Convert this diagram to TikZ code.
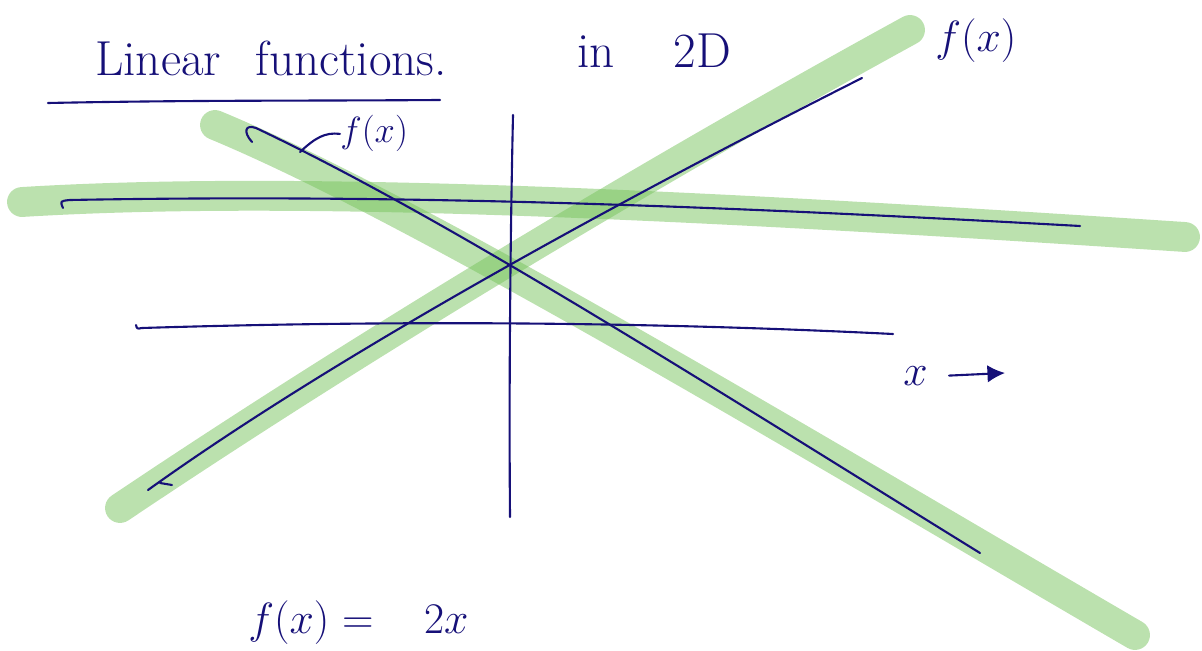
\documentclass[tikz,border=0pt]{standalone}
\usetikzlibrary{arrows.meta}
\definecolor{ink}{RGB}{22,16,120}
\definecolor{marker}{RGB}{119,195,93}

\begin{document}
\begin{tikzpicture}[
  x=0.02cm, y=-0.02cm,
  hl/.style={draw=marker, opacity=0.5, line width=17pt, line cap=round},
  pen/.style={draw=ink, line width=1.2pt, line cap=round, line join=round},
  hand/.style={text=ink, inner sep=0pt, font=\fontsize{28}{32}\selectfont}
]
  \useasboundingbox (0,0) rectangle (1202,651);

  % marker strokes
  \draw[hl] (22,202) .. controls (300,185) and (700,205) .. (1185,237);
  \draw[hl] (120,508) .. controls (400,320) and (700,145) .. (910,30);
  \draw[hl] (215,125) .. controls (420,210) and (800,440) .. (1135,635);

  % title
  \node[hand, anchor=base west] (title) at (95,76) {Linear\hspace{0.7em}functions.};
  \node[hand, anchor=base west] (dim) at (577,68) {in\hspace{1.2em}2D};
  \draw[pen] (48,103) .. controls (200,100) and (300,101) .. (440,100);

  % axes
  \draw[pen] (513,115) .. controls (510,250) and (509,400) .. (510,517);
  \draw[pen] (136,325) .. controls (137,329) .. (142,328)
    .. controls (400,320) and (650,322) .. (893,334);

  % lines
  \draw[pen] (63,208) .. controls (60,201) .. (70,200)
    .. controls (400,194) and (700,205) .. (1080,226);
  \draw[pen] (148,490) .. controls (350,345) and (650,185) .. (862,78);
  \draw[pen] (160,483) -- (172,485);
  \draw[pen] (252,142) .. controls (243,132) and (245,124) .. (256,128)
    .. controls (450,220) and (700,380) .. (980,553);

  % labels
  \node[hand, anchor=base west] (ftop) at (935,52) {$f(x)$};
  \node[hand, anchor=base west, font=\fontsize{22}{26}\selectfont] (fsmall) at (340,143) {$f(x)$};
  \coordinate (tip) at (300,152);
  \draw[pen] (tip) .. controls (315,138) and (325,132) .. (fsmall.west);

  \node[hand, anchor=base west, font=\fontsize{32}{36}\selectfont] (xlab) at (903,385) {$x$};
  \coordinate (xhead) at (1005,373);
  \draw[pen, -{Latex[length=10pt, width=10pt]}] ([xshift=12pt]xlab.east) -- (xhead);

  \node[hand, anchor=base west, font=\fontsize{36}{40}\selectfont] (rule) at (248,633)
    {$f(x)$\hspace{0.2em}$=$\hspace{0.8em}$2x$};
\end{tikzpicture}
\end{document}
